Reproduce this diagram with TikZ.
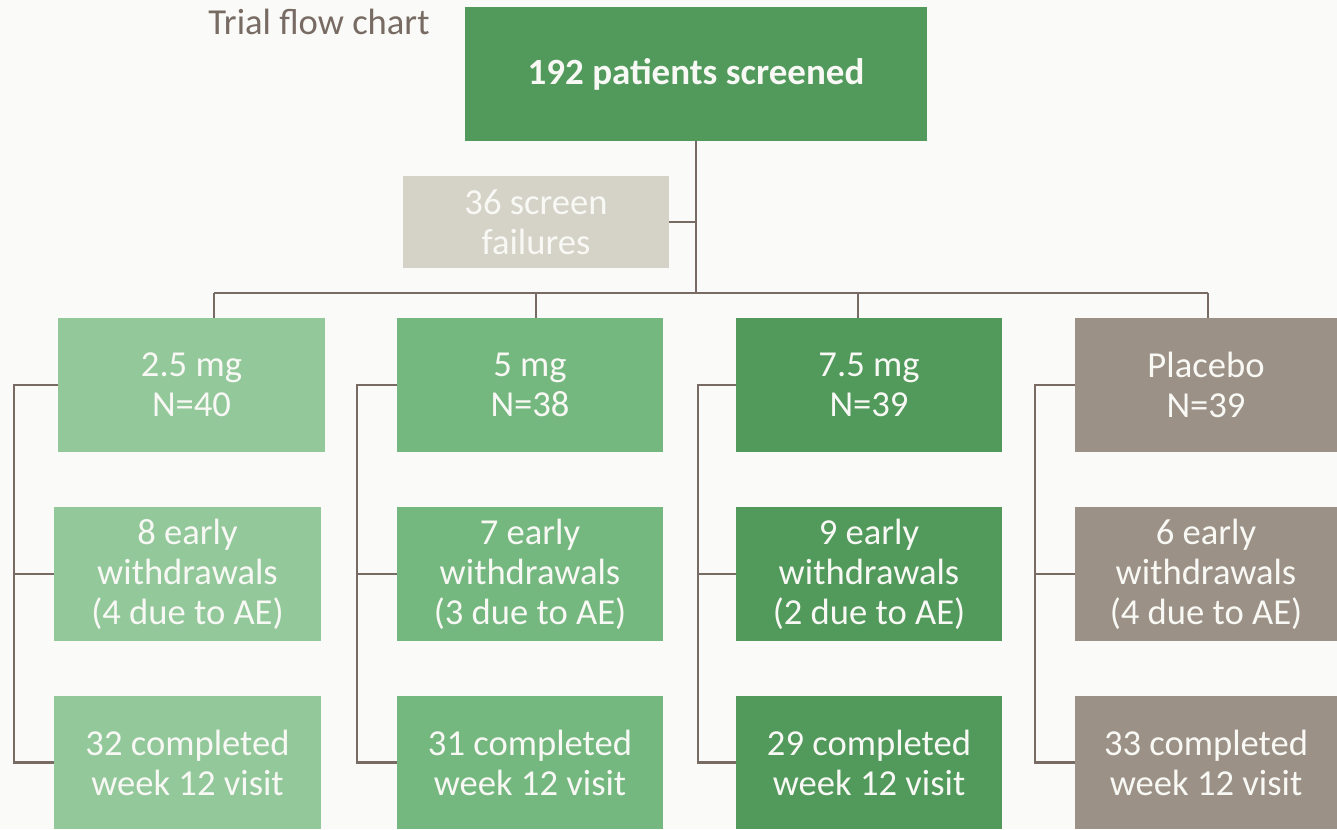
\documentclass[tikz,border=0pt]{standalone}
\usepackage{fontspec}
\setmainfont{Carlito}
\definecolor{bg}{HTML}{FAFAF8}
\definecolor{gdark}{HTML}{519A5C}
\definecolor{gmid}{HTML}{74B880}
\definecolor{glight}{HTML}{93C89B}
\definecolor{taupe}{HTML}{9C9187}
\definecolor{stone}{HTML}{D5D3C8}
\definecolor{linec}{HTML}{776B63}
\definecolor{txtw}{HTML}{F8F8F4}
\begin{document}
\begin{tikzpicture}[x=1pt,y=-1pt,
  box/.style={rectangle, inner sep=0pt, align=center, text=txtw,
    font=\fontsize{36.6}{40}\selectfont},
  conn/.style={draw=linec, line width=2.6pt},
  ]
\useasboundingbox (0,0) rectangle (1337,829);
\fill[bg] (0,0) rectangle (1337,829);

\node[text=linec, font=\fontsize{36.6}{40}\selectfont, anchor=base] (title) at (319,35) {Trial flow chart};

\node[box, fill=gdark, minimum width=462pt, minimum height=134pt, font=\fontsize{37}{40}\selectfont\bfseries] (top) at (696,74) {192 patients screened};
\node[box, fill=stone, text=txtw, minimum width=266pt, minimum height=92pt] (scr) at (536,222) {36 screen\\failures};

% row 1
\node[box, fill=glight, minimum width=267pt, minimum height=134pt] (a1) at (191.5,385) {2.5 mg\\N=40};
\node[box, fill=gmid, minimum width=266pt, minimum height=134pt] (a2) at (530,385) {5 mg\\N=38};
\node[box, fill=gdark, minimum width=266pt, minimum height=134pt] (a3) at (869,385) {7.5 mg\\N=39};
\node[box, fill=taupe, minimum width=262pt, minimum height=134pt] (a4) at (1206,385) {Placebo\\N=39};
% row 2
\node[box, fill=glight, minimum width=267pt, minimum height=134pt] (b1) at (187.5,574) {8 early\\withdrawals\\(4 due to AE)};
\node[box, fill=gmid, minimum width=266pt, minimum height=134pt] (b2) at (530,574) {7 early\\withdrawals\\(3 due to AE)};
\node[box, fill=gdark, minimum width=266pt, minimum height=134pt] (b3) at (869,574) {9 early\\withdrawals\\(2 due to AE)};
\node[box, fill=taupe, minimum width=262pt, minimum height=134pt] (b4) at (1206,574) {6 early\\withdrawals\\(4 due to AE)};
% row 3
\node[box, fill=glight, minimum width=267pt, minimum height=133pt] (c1) at (187.5,762.5) {32 completed\\week 12 visit};
\node[box, fill=gmid, minimum width=266pt, minimum height=133pt] (c2) at (530,762.5) {31 completed\\week 12 visit};
\node[box, fill=gdark, minimum width=266pt, minimum height=133pt] (c3) at (869,762.5) {29 completed\\week 12 visit};
\node[box, fill=taupe, minimum width=262pt, minimum height=133pt] (c4) at (1206,762.5) {33 completed\\week 12 visit};

% tree connectors
\coordinate (bus) at (696,293);
\coordinate (d1) at (214,293);
\coordinate (d2) at (536,293);
\coordinate (d3) at (858,293);
\coordinate (d4) at (1208,293);
\draw[conn] (top.south) -- (bus);
\draw[conn] (scr.east) -- (scr.east -| top.south);
\draw[conn] (d1) -- (d4);
\draw[conn] (d1) -- (d1 |- a1.north);
\draw[conn] (d2) -- (d2 |- a2.north);
\draw[conn] (d3) -- (d3 |- a3.north);
\draw[conn] (d4) -- (d4 |- a4.north);

% brackets
\coordinate (k1) at (14,0);
\coordinate (k2) at (357,0);
\coordinate (k3) at (698,0);
\coordinate (k4) at (1035,0);
\draw[conn] (a1.west) -| (k1 |- c1.west) -- (c1.west);
\draw[conn] (b1.west) -- (k1 |- b1.west);
\draw[conn] (a2.west) -| (k2 |- c2.west) -- (c2.west);
\draw[conn] (b2.west) -- (k2 |- b2.west);
\draw[conn] (a3.west) -| (k3 |- c3.west) -- (c3.west);
\draw[conn] (b3.west) -- (k3 |- b3.west);
\draw[conn] (a4.west) -| (k4 |- c4.west) -- (c4.west);
\draw[conn] (b4.west) -- (k4 |- b4.west);
\end{tikzpicture}
\end{document}
